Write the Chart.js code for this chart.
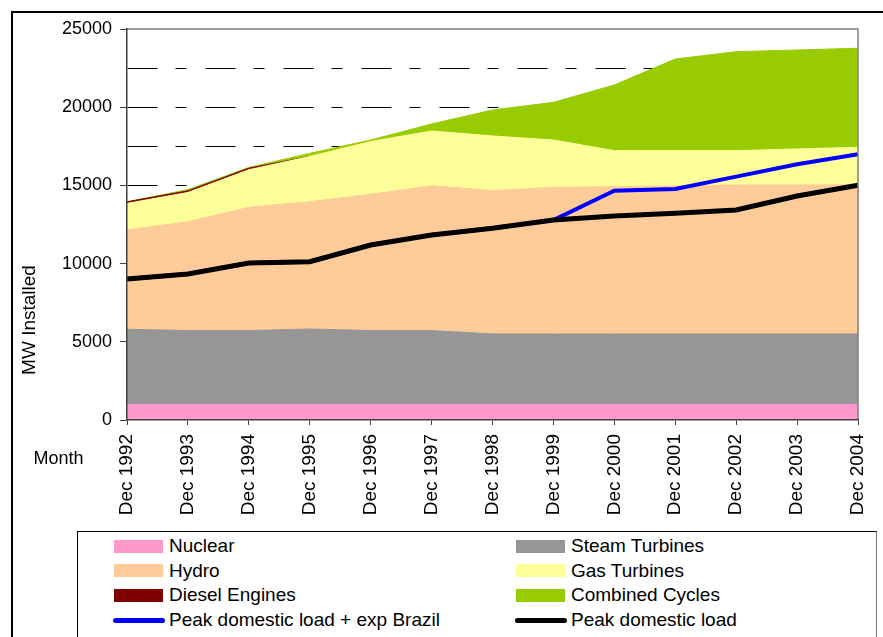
<!DOCTYPE html>
<html>
<head>
<meta charset="utf-8">
<script src="https://cdn.jsdelivr.net/npm/chart.js@4/dist/chart.umd.min.js"></script>
<style>
  html, body { margin: 0; padding: 0; background: #fff; }
  body { width: 883px; height: 637px; overflow: hidden; position: relative; font-family: "Liberation Sans", Arial, sans-serif; }
  #frame { position: absolute; left: 11px; top: 11px; width: 880px; height: 640px; border-left: 2px solid #000; border-top: 2px solid #000; }
  #wrap { position: absolute; left: 0; top: 0; width: 883px; height: 637px; }
  #legend { position: absolute; left: 77px; top: 531px; width: 798px; height: 120px; border-top: 1px solid #000; border-left: 1px solid #000; border-right: 1px solid #777; background: #fff; }
  .item { position: absolute; height: 20px; font-size: 19px; color: #000; white-space: nowrap; }
  .sw { position: absolute; left: 0; }
  .lbl { position: absolute; left: 55px; top: 0; line-height: 20px; }
</style>
</head>
<body>
<div id="frame"></div>
<div id="wrap"><canvas id="chart"></canvas></div>
<div id="legend"></div>
<script>
const years = ['Dec 1992', 'Dec 1993', 'Dec 1994', 'Dec 1995', 'Dec 1996', 'Dec 1997', 'Dec 1998',
  'Dec 1999', 'Dec 2000', 'Dec 2001', 'Dec 2002', 'Dec 2003', 'Dec 2004'];

// installed capacity by technology, MW (stacked)
const nuclear = [1000, 1000, 1000, 1000, 1000, 1000, 1000, 1000, 1000, 1000, 1000, 1000, 1000];
const steamTurbines = [4800, 4720, 4720, 4820, 4720, 4720, 4500, 4500, 4500, 4500, 4500, 4500, 4500];
const hydro = [6350, 6960, 7880, 8140, 8710, 9260, 9160, 9380, 9420, 9460, 9530, 9530, 9530];
const gasTurbines = [1700, 1870, 2400, 2890, 3370, 3500, 3500, 3020, 2300, 2260, 2190, 2300, 2410];
const dieselEngines = [100, 100, 100, 0, 0, 0, 0, 0, 0, 0, 0, 0, 0];
const combinedCycles = [0, 80, 50, 200, 100, 450, 1660, 2410, 4200, 5860, 6330, 6330, 6330];

// peak loads, MW
const peakExport = [9015, 9335, 10040, 10120, 11190, 11830, 12260, 12790, 14660, 14770, 15560, 16350, 16990];
const peakDomestic = [9015, 9335, 10040, 10120, 11190, 11830, 12260, 12790, 13040, 13220, 13430, 14320, 15010];

const yTicks = [0, 5000, 10000, 15000, 20000, 25000];

const FONT = '"Liberation Sans", Arial, sans-serif';

function area(label, data, color, fill) {
  return {
    label: label, data: data, stack: 'gen', order: 3,
    backgroundColor: color, borderColor: color, borderWidth: 1,
    fill: fill, pointRadius: 0, tension: 0, legendType: 'box'
  };
}

const datasets = [
  area('Nuclear', nuclear, '#FF99CC', 'origin'),
  area('Steam Turbines', steamTurbines, '#969696', '-1'),
  area('Hydro', hydro, '#FFCC99', '-1'),
  area('Gas Turbines', gasTurbines, '#FFFF99', '-1'),
  area('Diesel Engines', dieselEngines, '#800000', '-1'),
  area('Combined Cycles', combinedCycles, '#99CC00', '-1'),
  {
    label: 'Peak domestic load + exp Brazil', data: peakExport, stack: 'exp', order: 2,
    borderColor: '#0000FF', backgroundColor: '#0000FF', borderWidth: 4, fill: false,
    pointRadius: 0, tension: 0, legendType: 'line'
  },
  {
    label: 'Peak domestic load', data: peakDomestic, stack: 'dom', order: 1,
    borderColor: '#000000', backgroundColor: '#000000', borderWidth: 5, fill: false,
    pointRadius: 0, tension: 0, legendType: 'line'
  }
];

// diesel outline only where there is diesel capacity
datasets[4].segment = {
  borderColor: c => (dieselEngines[c.p0DataIndex] > 0 || dieselEngines[c.p1DataIndex] > 0) ? '#800000' : 'rgba(0,0,0,0)'
};

const extras = {
  id: 'extras',
  afterDatasetsDraw(chart) {
    const ctx = chart.ctx;
    const a = chart.chartArea;
    ctx.save();
    ctx.strokeStyle = '#808080';
    ctx.lineWidth = 1.5;
    ctx.beginPath();
    ctx.moveTo(a.left, a.top);
    ctx.lineTo(a.right, a.top);
    ctx.lineTo(a.right, a.bottom);
    ctx.stroke();
    ctx.fillStyle = '#000';
    ctx.textAlign = 'center';
    ctx.textBaseline = 'middle';
    ctx.font = '18px ' + FONT;
    ctx.fillText('Month', 58.5, 459);
    ctx.font = '19px ' + FONT;
    ctx.translate(30, 320);
    ctx.rotate(-Math.PI / 2);
    ctx.fillText('MW Installed', 0, 0);
    ctx.restore();
  }
};

const chart = new Chart(document.getElementById('chart'), {
  type: 'line',
  data: { labels: years, datasets: datasets },
  options: {
    responsive: true,
    maintainAspectRatio: false,
    animation: false,
    layout: { padding: { left: 0, top: 29, right: 25, bottom: 117 } },
    plugins: { legend: { display: false }, tooltip: { enabled: false } },
    scales: {
      x: {
        offset: false,
        grid: { drawOnChartArea: false, drawTicks: true, tickLength: 5, color: '#404040' },
        border: { color: '#404040', width: 1.5, z: 1 },
        ticks: {
          autoSkip: false, minRotation: 90, maxRotation: 90, padding: 9,
          color: '#000', font: { family: FONT, size: 19 }
        },
        afterFit(scale) { scale.height = 100; scale.paddingLeft = 0; scale.paddingRight = 0; }
      },
      y: {
        stacked: true,
        min: 0, max: 25000,
        grid: {
          color: c => (c.tick && (c.tick.value === 0 || c.tick.value === 25000)) ? 'rgba(0,0,0,0)' : '#000',
          lineWidth: 1,
          tickLength: 7,
          tickColor: c => (c.tick && yTicks.includes(c.tick.value)) ? '#404040' : 'rgba(0,0,0,0)'
        },
        border: { color: '#404040', width: 1.5, dash: [30, 18, 11, 19], z: 1 },
        ticks: {
          stepSize: 2500, padding: 8, color: '#000', font: { family: FONT, size: 18 },
          callback: v => yTicks.includes(v) ? String(v) : ''
        },
        afterFit(scale) { scale.width = 127; }
      }
    }
  },
  plugins: [extras]
});

// legend, two columns, built from the datasets
const legendOrder = [0, 1, 2, 3, 4, 5, 6, 7];
const legendEl = document.getElementById('legend');
legendOrder.forEach((di, i) => {
  const ds = chart.data.datasets[di];
  const col = i % 2, row = Math.floor(i / 2);
  const item = document.createElement('div');
  item.className = 'item';
  item.style.left = (col === 0 ? 113 - 77 : 515 - 77) + 'px';
  item.style.top = (545 - 531 - 10 + row * 24.7) + 'px';
  const sw = document.createElement('div');
  sw.className = 'sw';
  if (ds.legendType === 'line') {
    sw.style.cssText = 'left:-1px;top:7.5px;width:52px;height:5px;border-radius:3px;background:' + ds.borderColor;
  } else {
    sw.style.cssText = 'top:3.5px;width:49px;height:13px;background:' + ds.backgroundColor;
  }
  const lbl = document.createElement('div');
  lbl.className = 'lbl';
  lbl.textContent = ds.label;
  item.appendChild(sw);
  item.appendChild(lbl);
  legendEl.appendChild(item);
});
</script>
</body>
</html>
